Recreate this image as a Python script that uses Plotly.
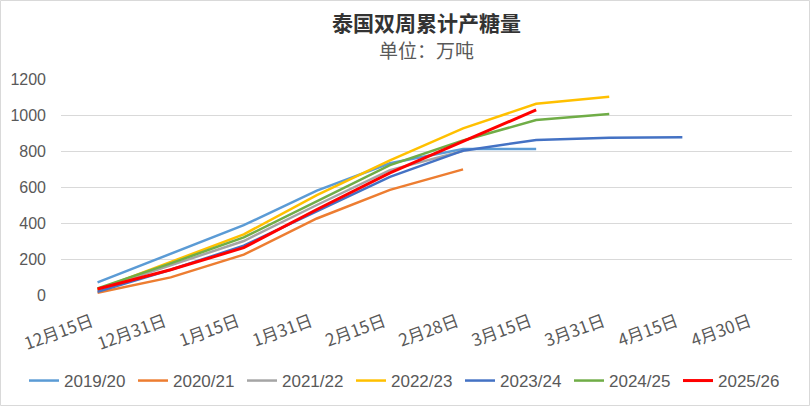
import plotly.graph_objects as go

categories = ["12月15日", "12月31日", "1月15日", "1月31日", "2月15日",
              "2月28日", "3月15日", "3月31日", "4月15日", "4月30日"]

s2019_20 = [70, 228, 388, 580, 732, 811, 811]
s2020_21 = [13, 98, 224, 425, 584, 698]
s2021_22 = [30, 165, 300, 500, 694, 800]
s2022_23 = [30, 182, 337, 555, 748, 926, 1062, 1102]
s2023_24 = [18, 140, 274, 465, 656, 802, 861, 874, 876]
s2024_25 = [37, 176, 320, 522, 722, 858, 972, 1006]
s2025_26 = [33, 140, 263, 475, 678, 852, 1028]

title_text = "泰国双周累计产糖量"
subtitle_text = "单位：万吨"

series = [
    ("2019/20", s2019_20, "#5B9BD5", 2.5),
    ("2020/21", s2020_21, "#ED7D31", 2.5),
    ("2021/22", s2021_22, "#A5A5A5", 2.5),
    ("2022/23", s2022_23, "#FFC000", 2.5),
    ("2023/24", s2023_24, "#4472C4", 2.5),
    ("2024/25", s2024_25, "#70AD47", 2.5),
    ("2025/26", s2025_26, "#FF0000", 3),
]

FONT = "Noto Sans CJK SC"

fig = go.Figure()
for name, vals, color, w in series:
    fig.add_trace(go.Scatter(
        x=list(range(len(vals))), y=vals, name=name, mode="lines",
        line=dict(color=color, width=w),
    ))

fig.update_layout(
    width=810, height=406,
    margin=dict(l=61, r=18, t=79, b=111, autoexpand=False),
    paper_bgcolor="white", plot_bgcolor="white",
    font=dict(family=FONT, color="#595959", size=14),
    showlegend=True,
    legend=dict(
        orientation="h", x=(24 - 61) / 731, xanchor="left",
        y=-(381 - 295) / 216, yanchor="middle",
        font=dict(family="Liberation Sans", size=17, color="#595959"),
        itemwidth=30, tracegroupgap=0, entrywidth=64, entrywidthmode="pixels",
    ),
    xaxis=dict(
        tickmode="array", tickvals=list(range(len(categories))), ticktext=categories,
        range=[-0.5, len(categories) - 0.5], tickangle=-20,
        showgrid=False, zeroline=False, showline=False, ticks="", automargin=False,
        ticklabelstandoff=13, ticklabelshift=-6,
        tickfont=dict(family=FONT, size=17, color="#595959"),
    ),
    yaxis=dict(
        range=[0, 1200], dtick=200, showgrid=True, gridcolor="#D9D9D9", gridwidth=1,
        zeroline=False, showline=False, ticks="", automargin=False,
        ticklabelstandoff=14,
        tickfont=dict(family="Liberation Sans", size=16, color="#595959"),
    ),
)

fig.add_annotation(text="<b>" + title_text + "</b>", xref="paper", yref="paper",
                   x=0.5, y=1 + (79 - 22) / 216, xanchor="center", yanchor="middle",
                   showarrow=False, font=dict(family=FONT, size=21, color="#333333"))
fig.add_annotation(text=subtitle_text, xref="paper", yref="paper",
                   x=0.5, y=1 + (79 - 49) / 216, xanchor="center", yanchor="middle",
                   showarrow=False, font=dict(family=FONT, size=19, color="#595959"))

fig.add_shape(type="rect", xref="paper", yref="paper", x0=-60.5/731, x1=1 + 17.5/731,
              y0=-110.5/216, y1=1 + 78.5/216, line=dict(color="#D9D9D9", width=1))

fig.write_html("out.html", config={"displayModeBar": False},
               post_script="document.body.style.margin='0';document.body.style.overflow='hidden';")
